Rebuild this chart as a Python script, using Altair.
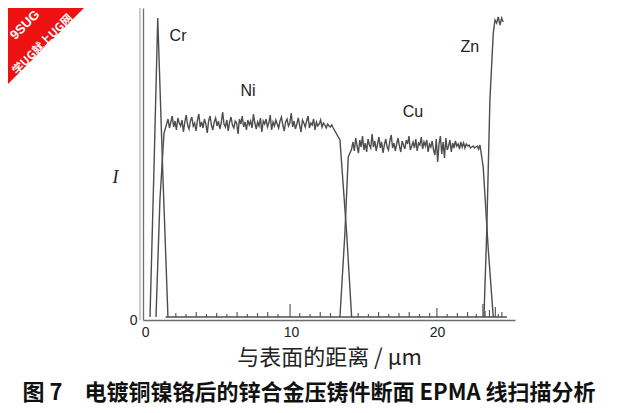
import altair as alt
import pandas as pd
import numpy as np

# ---- data (x in µm, intensity in arbitrary units) ----
cr_x = [0.33, 0.60, 0.86, 1.20, 1.56]
cr_y = [3, 150, 302, 150, 3]

ni_rise_x = [0.74, 1.01, 1.29]
ni_rise_y = [3, 120, 187]
ni_plateau = [196, 201, 192, 198, 204, 193, 199, 190, 202, 197, 194, 200, 188, 198, 205, 195, 191, 199, 203, 194,
              197, 189, 200, 206, 193, 198, 192, 201, 196, 187, 199, 204, 195, 190, 198, 202, 194, 199, 191, 197,
              208, 196, 193, 200, 189, 198, 203, 195, 192, 199, 197, 186, 201, 196, 204, 193, 198, 190, 200, 195,
              199, 192, 206, 197, 191, 198, 194, 202, 188, 199, 196, 201, 193, 197, 205, 190, 198, 194, 200, 196,
              192, 199, 203, 195, 189, 198, 201, 194, 197, 207, 193, 199, 191, 196, 202, 195, 188, 200, 197, 193,
              199, 204, 192, 197, 195, 201, 190, 198, 194, 196, 200, 193, 197, 195, 192, 196, 194, 193, 195, 192]
ni_plateau_start, ni_plateau_end = 1.47, 12.89
ni_fall_x = [13.35, 13.81, 14.15]
ni_fall_y = [180, 87, 3]

cu_rise_x = [13.35, 13.69, 13.92]
cu_rise_y = [3, 87, 163]
cu_plateau = [171, 178, 169, 182, 174, 167, 180, 173, 184, 170, 177, 168, 181, 175, 172, 186, 173, 179, 169, 176,
              183, 172, 178, 167, 175, 181, 173, 170, 179, 185, 172, 177, 169, 176, 182, 174, 168, 179, 175, 171,
              180, 176, 184, 170, 174, 178, 172, 181, 169, 177, 175, 183, 171, 178, 174, 180, 168, 176, 173, 179,
              170, 165, 181, 158, 176, 184, 166, 178, 162, 182, 170, 174, 180, 168, 177, 172, 179, 174, 176, 171,
              178, 173, 177, 172, 176, 174, 175, 172, 173, 174, 172, 173, 174, 171, 175]
cu_plateau_start, cu_plateau_end = 14.15, 22.95
cu_fall_x = [23.17, 23.52, 23.86]
cu_fall_y = [153, 70, 3]

zn_x = [23.22, 23.41, 23.63, 23.86, 23.98, 24.09, 24.20, 24.32, 24.43, 24.54]
zn_y = [3, 87, 220, 287, 300, 297, 303, 295, 302, 298]

base_x = [1.40, 24.80]
base_y = [3, 3]

spike_x = [2.1, 2.8, 3.5, 4.2, 4.9, 5.6, 6.3, 7.0, 7.7, 8.4, 9.1, 9.93, 10.6, 11.3, 12.0,
           12.7, 14.6, 15.3, 16.0, 16.7, 17.4, 18.1, 18.8, 19.5, 20.0, 20.7, 21.4, 22.1,
           22.7, 23.15, 23.3, 23.6, 24.0, 24.2, 24.45]
spike_h = [7, 6, 8, 6, 7, 6, 8, 6, 7, 8, 6, 16, 7, 6, 8,
           7, 7, 6, 8, 6, 7, 8, 6, 7, 12, 6, 7, 8,
           6, 16, 9, 10, 13, 6, 8]

labels = ["Cr", "Ni", "Cu", "Zn"]
label_x = [2.25, 7.05, 18.35, 22.26]
label_y = [284, 229, 208, 273]

x_ticks = [0, 10, 20]
x_title = "与表面的距离 / µm"
y_title = "I"
caption = "图 7　电镀铜镍铬后的锌合金压铸件断面 EPMA 线扫描分析"

# ---- build tables ----
rows = []
def add(name, xs, ys):
    for i, (a, b) in enumerate(zip(xs, ys)):
        rows.append({"el": name, "x": a, "y": b, "i": i})

add("Cr", cr_x, cr_y)
ni_px = list(np.linspace(ni_plateau_start, ni_plateau_end, len(ni_plateau)))
add("Ni", ni_rise_x + ni_px + ni_fall_x, ni_rise_y + ni_plateau + ni_fall_y)
cu_px = list(np.linspace(cu_plateau_start, cu_plateau_end, len(cu_plateau)))
add("Cu", cu_rise_x + cu_px + cu_fall_x, cu_rise_y + cu_plateau + cu_fall_y)
add("Zn", zn_x, zn_y)
add("base", base_x, base_y)
lines_df = pd.DataFrame(rows)

spikes_df = pd.DataFrame({"x": spike_x, "y": [3] * len(spike_x), "y2": spike_h})
labels_df = pd.DataFrame({"label": labels, "x": label_x, "y": label_y})

W, H = 372, 312
LINE = "#4d4d4d"
AX = "#6e6e6e"

xscale = alt.Scale(domain=[-0.15, 25.35], nice=False, zero=False)
yscale = alt.Scale(domain=[0, 312], nice=False)

x_enc = alt.X("x:Q", scale=xscale, axis=alt.Axis(
    values=x_ticks, title=x_title, grid=False, ticks=False, domainColor=AX,
    domainWidth=1.3, labelFont="Liberation Sans", labelFontSize=14, labelColor="#222",
    labelPadding=5, titleFont="Noto Sans CJK SC", titleFontSize=22,
    titleFontWeight="normal", titleColor="#222", titlePadding=8))
y_enc = alt.Y("y:Q", scale=yscale, axis=alt.Axis(
    values=[0], title=y_title, grid=False, ticks=False, domainColor=AX,
    domainWidth=1.3, labelFont="Liberation Sans", labelFontSize=14, labelColor="#222",
    labelPadding=6, titleAngle=0, titleFont="Liberation Serif", titleFontStyle="italic",
    titleFontSize=18, titleFontWeight="normal", titleColor="#222",
    titleX=-28, titleY=178))

lines = alt.Chart(lines_df).mark_line(color=LINE, strokeWidth=1.4).encode(
    x=x_enc, y=y_enc, detail="el:N", order="i:Q")

spikes = alt.Chart(spikes_df).mark_rule(color=LINE, strokeWidth=1.1).encode(
    x="x:Q", y="y:Q", y2="y2:Q")

texts = alt.Chart(labels_df).mark_text(
    font="Liberation Sans", fontSize=16, color="#222").encode(
    x="x:Q", y="y:Q", text="label:N")

second_axis = alt.Chart(pd.DataFrame({"a": [0]})).mark_rule(
    color="#9a9a9a", strokeWidth=1).encode(
    x=alt.value(-3), y=alt.value(0), y2=alt.value(H))

cap = alt.Chart(pd.DataFrame({"t": [caption]})).mark_text(
    font="Noto Sans CJK SC", fontSize=22, fontWeight="bold", color="#111",
    align="center", baseline="middle").encode(
    x=alt.value(166), y=alt.value(385), text="t:N")

tri = alt.Chart(pd.DataFrame({"a": [0]})).mark_point(
    shape="M -1 -1 L 1 -1 L -1 1 Z", size=76 * 76, filled=True,
    color="#ee1111", opacity=1, strokeWidth=0).encode(
    x=alt.value(-97), y=alt.value(38))

wm1 = alt.Chart(pd.DataFrame({"t": ["9SUG"]})).mark_text(
    font="Liberation Sans", fontSize=13, fontWeight="bold", color="white",
    angle=315, align="center", baseline="middle").encode(
    x=alt.value(-118), y=alt.value(17), text="t:N")

wm2 = alt.Chart(pd.DataFrame({"t": ["学UG就上UG网"]})).mark_text(
    font="Noto Sans CJK SC", fontSize=11.5, fontWeight="bold", color="white",
    angle=315, align="center", baseline="middle").encode(
    x=alt.value(-100), y=alt.value(37), text="t:N")

chart = alt.layer(lines, spikes, texts, second_axis, cap, tri, wm1, wm2).properties(
    width=W, height=H,
    autosize=alt.AutoSizeParams(type="none"),
    padding={"left": 135, "top": 0, "right": 95, "bottom": 84},
    background="white",
).configure_view(stroke=None)

chart.save("out.html", embed_options={"renderer": "svg", "actions": False})
